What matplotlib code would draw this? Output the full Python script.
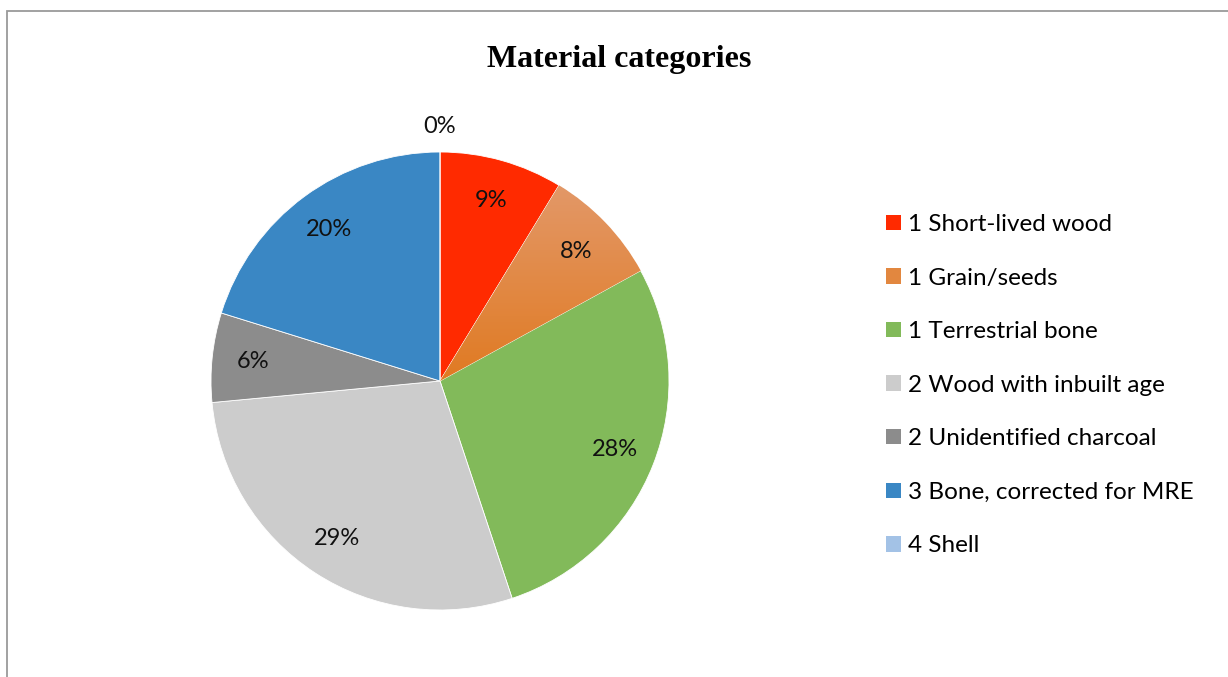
import numpy as np
import matplotlib
matplotlib.use("Agg")
import matplotlib.pyplot as plt
from matplotlib.patches import Rectangle, Patch
from matplotlib.colors import LinearSegmentedColormap

# Share of dated samples per material category (percent)
categories = [
    "1 Short-lived wood",
    "1 Grain/seeds",
    "1 Terrestrial bone",
    "2 Wood with inbuilt age",
    "2 Unidentified charcoal",
    "3 Bone, corrected for MRE",
    "4 Shell",
]
shares = [8.7, 8.3, 27.9, 28.6, 6.3, 20.2, 0.0]
colors = ["#FF2A00", "#E2873F", "#82BA5A", "#CCCCCC", "#8C8C8C", "#3A87C4", "#A3C2E6"]
title = "Material categories"

W, H = 1228, 677
fig = plt.figure(figsize=(W / 100, H / 100), dpi=100)
fig.patch.set_facecolor("white")

# chart frame (runs off the right and bottom edges)
fig.patches.append(Rectangle((7 / W, -0.1), 1.2, 1 - 11 / H + 0.1, transform=fig.transFigure,
                             fill=False, edgecolor="#9A9A9A", linewidth=1.3))

cx, cy, r = 440, 381, 229
ax = fig.add_axes([(cx - r) / W, (H - cy - r) / H, 2 * r / W, 2 * r / H])
ax.set_xlim(-1, 1)
ax.set_ylim(-1, 1)
ax.set_aspect("equal")
ax.axis("off")

wedges, _ = ax.pie(shares, colors=colors, startangle=90, counterclock=False, radius=1,
                   wedgeprops=dict(edgecolor="white", linewidth=0.6))

# vertical shading on the grain/seeds slice
grad = LinearSegmentedColormap.from_list("grain", ["#E07A22", "#E39868"])
w = wedges[1]
bb = w.get_path().get_extents(w.get_patch_transform())
img = ax.imshow(np.linspace(0, 1, 256).reshape(-1, 1), cmap=grad, origin="lower",
                extent=[bb.x0, bb.x1, bb.y0, bb.y1], aspect="auto", zorder=w.get_zorder() + 0.1)
img.set_clip_path(w)
ax.set_xlim(-1, 1)
ax.set_ylim(-1, 1)

# percentage labels
total = sum(shares)
start = 90.0
for v in shares:
    sweep = 360.0 * v / total
    mid = np.deg2rad(start - sweep / 2)
    rad = 0.82 if v > 0 else 1.11
    ax.text(rad * np.cos(mid), rad * np.sin(mid), f"{v / total * 100:.0f}%",
            ha="center", va="center", fontsize=17, family="Lato", color="#111111", zorder=10)
    start -= sweep

fig.text(619 / W, 1 - 59 / H, title, ha="center", va="center",
         fontsize=23, fontweight="bold", family="Liberation Serif")

handles = [Patch(facecolor=c, edgecolor="none") for c in colors]
leg = fig.legend(handles, categories, loc="upper left", bbox_to_anchor=(886 / W, 1 - 214 / H),
                 frameon=False, prop=dict(family="Lato", size=17.5),
                 handlelength=0.6, handleheight=0.6, handletextpad=0.3,
                 labelspacing=1.34, borderaxespad=0, borderpad=0)

fig.savefig("out.png", dpi=100)
